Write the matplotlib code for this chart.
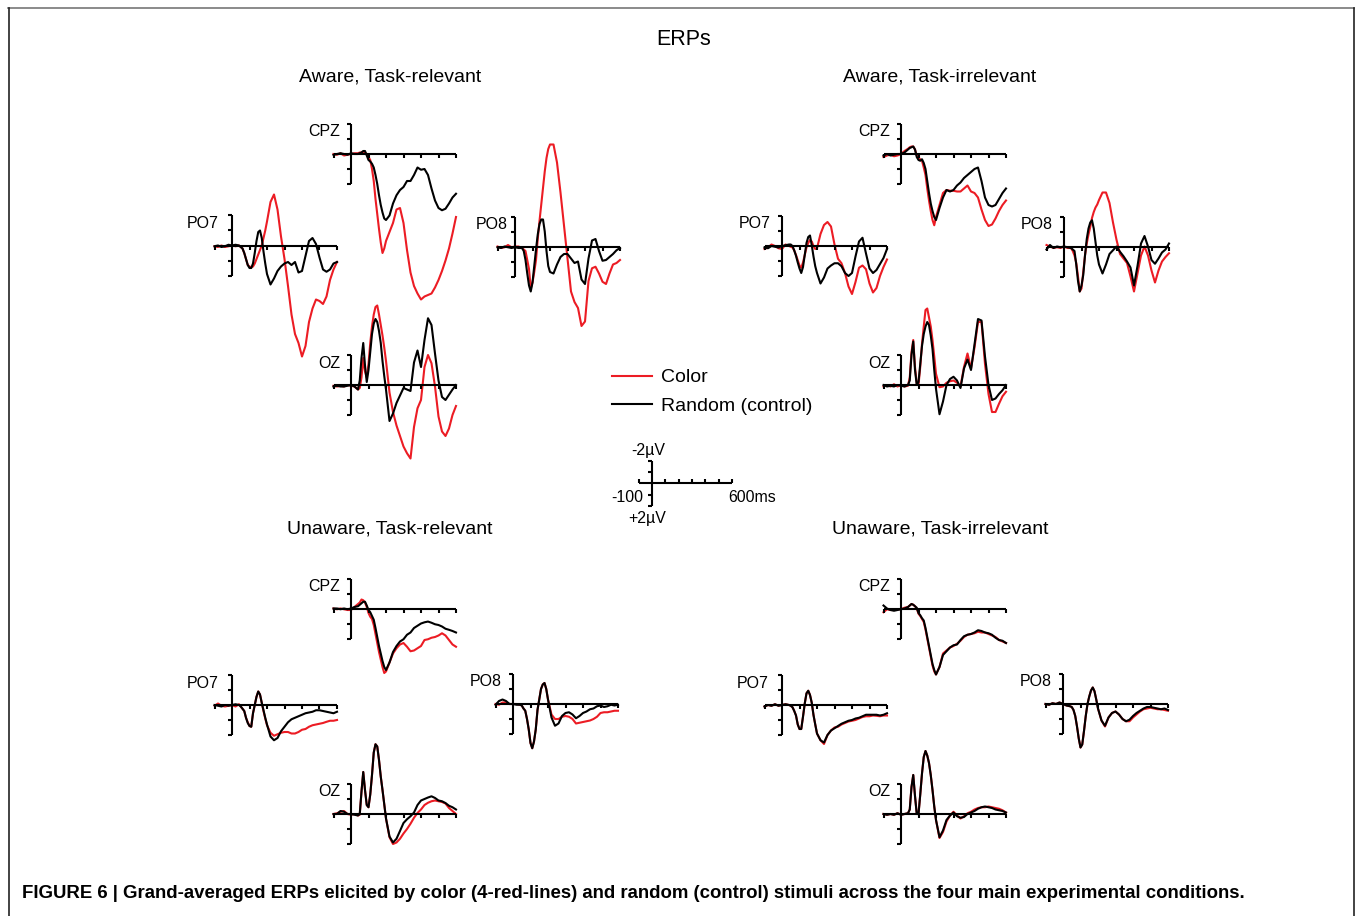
import matplotlib
matplotlib.use("Agg")
import matplotlib.pyplot as plt
from matplotlib.lines import Line2D

plt.rcParams["font.family"] = ["Liberation Sans", "DejaVu Sans"]

W, H = 1355, 916
RED = "#ec1c24"
INK = "#000000"

# time grid (ms): 20 ms steps before 40 ms, 10 ms in the early window, 20 ms after 200 ms
TIME_MS = [-100, -80, -60, -40, -20, 0, 20, 40,
           50, 60, 70, 80, 90, 100, 110, 120, 130, 140, 150, 160, 170, 180, 190, 200,
           220, 240, 260, 280, 300, 320, 340, 360, 380, 400, 420, 440, 460, 480, 500, 520, 540, 560, 580, 600]

# amplitudes in microvolts, negative plotted upwards
# --- Aware, Task-relevant
AR_CPZ_COLOR = [0.0, 0.05, -0.05, 0.1, 0.05, 0.0, -0.05, -0.05,
                -0.1, -0.1, -0.15, -0.1, 0.0, 0.2, 0.4, 1.0, 1.8, 3.0, 4.0, 5.0, 5.9, 6.6, 6.3, 5.8,
                5.2, 4.6, 3.7, 3.6, 4.6, 6.4, 7.9, 8.8, 9.3, 9.7, 9.5, 9.4, 9.3, 8.9, 8.4, 7.8, 7.1, 6.3, 5.3, 4.2]
AR_CPZ_RANDOM = [0.05, 0.0, -0.05, 0.0, 0.05, -0.05, 0.0, 0.0,
                 -0.05, -0.1, -0.2, -0.2, 0.1, 0.4, 0.5, 0.65, 0.9, 1.4, 2.0, 2.75, 3.4, 3.9, 4.3, 4.4,
                 4.1, 3.3, 2.75, 2.4, 2.2, 1.8, 1.8, 1.4, 0.9, 1.05, 1.0, 1.4, 2.3, 3.1, 3.6, 3.75, 3.65, 3.3, 2.9, 2.65]
AR_PO7_COLOR = [0.05, 0.1, 0.0, 0.1, 0.05, 0.0, 0.05, 0.0,
                0.1, 0.2, 0.5, 0.9, 1.3, 1.4, 1.45, 1.4, 1.2, 0.9, 0.6, 0.3, 0.0, -0.5, -1.0, -1.6,
                -2.9, -3.4, -2.4, -0.6, 0.9, 2.7, 4.6, 5.9, 6.5, 7.4, 6.7, 5.1, 4.2, 3.6, 3.7, 3.9, 3.4, 2.3, 1.6, 1.1]
AR_PO7_RANDOM = [0.05, 0.0, 0.1, 0.05, -0.05, 0.0, -0.05, 0.0,
                 0.1, 0.2, 0.5, 0.9, 1.3, 1.5, 1.5, 1.2, 0.5, -0.3, -0.9, -1.0, -0.5, 0.4, 1.2, 1.9,
                 2.6, 2.2, 1.7, 1.4, 1.2, 1.1, 1.3, 1.1, 1.8, 1.7, 0.7, -0.3, -0.5, -0.1, 0.8, 1.6, 1.75, 1.6, 1.2, 1.1]
AR_PO8_COLOR = [0.0, 0.1, 0.05, -0.1, 0.05, 0.0, 0.0, 0.1,
                0.2, 0.3, 0.9, 1.5, 2.8, 2.4, 1.7, 0.9, -0.5, -1.7, -2.8, -3.9, -5.0, -5.9, -6.5, -6.8,
                -6.8, -5.6, -3.6, -1.4, 0.8, 3.0, 3.7, 4.1, 5.3, 5.0, 2.3, 1.45, 1.35, 1.8, 2.35, 2.5, 1.8, 1.2, 1.1, 0.9]
AR_PO8_RANDOM = [0.05, 0.1, 0.0, 0.05, 0.1, 0.05, 0.1, 0.1,
                 0.3, 0.9, 1.8, 2.6, 3.0, 2.4, 1.3, 0.2, -0.8, -1.5, -1.8, -1.8, -1.0, 0.3, 1.3, 1.7,
                 1.8, 1.2, 0.7, 0.5, 0.5, 0.8, 1.1, 1.0, 2.2, 2.5, 0.8, -0.4, -0.5, 0.3, 0.95, 0.9, 0.7, 0.5, 0.25, 0.1]
AR_OZ_COLOR = [0.05, 0.1, 0.05, 0.1, 0.0, 0.05, 0.1, 0.3,
               0.2, -0.5, -1.8, -0.9, -0.5, -1.4, -2.8, -3.9, -4.7, -5.2, -5.3, -4.7, -4.0, -3.3, -2.5, -1.6,
               0.5, 1.8, 2.7, 3.4, 4.1, 4.55, 4.9, 2.8, 1.55, 1.0, -1.2, -2.0, -1.45, 0.1, 2.1, 3.1, 3.4, 2.9, 2.0, 1.4]
AR_OZ_RANDOM = [0.1, 0.05, 0.1, 0.1, 0.05, 0.0, 0.1, 0.3,
                -0.3, -1.8, -2.8, -1.3, -0.2, -1.0, -2.2, -3.4, -4.1, -4.4, -4.2, -3.6, -2.8, -1.6, -0.6, 0.3,
                2.4, 1.9, 1.2, 0.7, 0.2, 0.3, 0.4, -1.5, -2.3, -1.2, -3.0, -4.45, -4.0, -2.1, -0.3, 0.8, 1.0, 0.65, 0.3, 0.0]

# --- Aware, Task-irrelevant
AI_CPZ_COLOR = [0.2, 0.1, 0.05, 0.15, 0.1, 0.0, -0.2, -0.35,
                -0.45, -0.5, -0.5, -0.3, 0.1, 0.25, 0.35, 0.45, 0.9, 1.4, 2.3, 3.1, 3.8, 4.4, 4.75, 4.2,
                3.4, 2.6, 2.4, 2.45, 2.45, 2.5, 2.5, 2.3, 2.1, 2.5, 2.6, 2.9, 3.7, 4.4, 4.8, 4.7, 4.3, 3.8, 3.4, 3.1]
AI_CPZ_RANDOM = [0.1, 0.0, 0.1, 0.05, 0.0, 0.0, -0.1, -0.3,
                 -0.4, -0.45, -0.5, -0.3, 0.2, 0.4, 0.45, 0.35, 0.6, 1.0, 1.8, 2.6, 3.3, 3.8, 4.2, 4.4,
                 3.6, 2.9, 2.4, 2.5, 2.4, 2.1, 1.9, 1.6, 1.4, 1.2, 1.0, 0.9, 1.8, 2.9, 3.4, 3.5, 3.4, 3.0, 2.6, 2.3]
AI_PO7_COLOR = [0.2, 0.1, -0.1, 0.0, 0.15, 0.2, -0.1, 0.0,
                0.05, 0.1, 0.3, 0.6, 0.95, 1.3, 1.45, 1.1, 0.6, 0.1, -0.2, -0.4, -0.3, 0.0, 0.2, 0.15,
                -0.8, -1.4, -1.6, -1.3, -0.1, 0.85, 1.15, 1.8, 2.7, 3.2, 2.4, 1.45, 1.3, 1.55, 2.5, 3.1, 2.8, 2.0, 1.4, 0.9]
AI_PO7_RANDOM = [0.1, 0.15, 0.0, 0.05, 0.1, 0.0, -0.05, -0.1,
                 -0.1, 0.0, 0.3, 0.65, 1.1, 1.5, 1.8, 1.4, 0.6, -0.2, -0.6, -0.7, -0.05, 0.7, 1.35, 1.8,
                 2.5, 2.1, 1.5, 1.3, 1.15, 1.15, 1.35, 1.8, 2.0, 1.8, 0.7, -0.3, -0.55, 0.5, 1.5, 1.8, 1.6, 1.2, 0.8, 0.2]
AI_PO8_COLOR = [-0.1, 0.0, 0.1, 0.05, 0.1, 0.0, 0.1, 0.1,
                0.3, 0.6, 1.1, 2.0, 3.0, 2.8, 1.7, 0.6, -0.2, -0.8, -1.3, -1.9, -2.3, -2.6, -2.8, -3.1,
                -3.6, -3.6, -2.9, -1.6, -0.45, 0.5, 0.8, 1.1, 2.0, 3.0, 1.8, 0.6, 0.0, 0.6, 1.6, 2.4, 1.6, 1.0, 0.7, 0.45]
AI_PO8_RANDOM = [0.2, -0.1, 0.1, 0.0, 0.05, 0.0, 0.05, 0.1,
                 0.2, 0.3, 1.2, 2.3, 3.0, 2.6, 1.9, 0.6, -0.5, -1.2, -1.6, -1.75, -1.2, -0.3, 0.6, 1.2,
                 1.8, 1.2, 0.5, 0.25, 0.0, 0.35, 0.65, 1.0, 1.4, 2.6, 1.3, -0.2, -0.7, 0.0, 0.9, 1.15, 0.8, 0.4, 0.2, -0.2]
AI_OZ_COLOR = [0.1, 0.0, 0.1, -0.05, 0.1, 0.0, 0.1, 0.05,
               -0.5, -2.2, -3.0, -1.2, -0.1, 0.0, -1.2, -2.75, -3.9, -5.0, -5.1, -4.5, -3.9, -3.0, -1.9, -0.75,
               0.15, 0.1, -0.15, -0.25, -0.3, -0.15, 0.1, -1.2, -2.1, -1.1, -2.5, -4.2, -4.2, -1.4, 0.6, 1.8, 1.8, 1.25, 0.75, 0.45]
AI_OZ_RANDOM = [0.0, 0.1, 0.05, 0.1, 0.0, 0.05, 0.1, 0.0,
                -0.3, -2.0, -2.9, -1.0, 0.0, -0.2, -1.4, -2.6, -3.4, -3.9, -4.2, -4.0, -3.3, -2.4, -1.0, 0.25,
                1.95, 1.1, 0.0, -0.4, -0.55, -0.3, 0.2, -1.1, -1.7, -1.0, -2.7, -4.4, -4.3, -1.9, 0.0, 1.0, 0.9, 0.6, 0.35, 0.0]

# --- Unaware, Task-relevant
UR_CPZ_COLOR = [0.0, 0.05, 0.0, 0.05, 0.1, 0.1, -0.1, -0.3,
                -0.4, -0.6, -0.55, -0.4, -0.1, 0.3, 0.55, 0.7, 1.1, 1.7, 2.3, 2.9, 3.4, 3.9, 4.3, 4.2,
                3.6, 3.0, 2.65, 2.4, 2.3, 2.55, 2.85, 2.8, 2.65, 2.5, 2.1, 2.05, 1.95, 1.9, 1.8, 1.65, 1.8, 2.1, 2.4, 2.55]
UR_CPZ_RANDOM = [0.0, 0.0, 0.05, 0.0, 0.05, 0.0, -0.1, -0.15,
                 -0.25, -0.35, -0.45, -0.45, -0.2, 0.1, 0.25, 0.5, 0.75, 1.3, 1.9, 2.5, 3.0, 3.5, 3.9, 4.1,
                 3.6, 2.9, 2.5, 2.2, 2.05, 1.75, 1.6, 1.3, 1.15, 1.0, 0.92, 0.87, 0.95, 1.05, 1.1, 1.2, 1.35, 1.42, 1.5, 1.6]
UR_PO7_COLOR = [0.05, -0.1, 0.05, 0.1, 0.05, 0.0, 0.1, -0.05,
                0.1, 0.25, 0.4, 0.85, 1.15, 1.4, 1.45, 0.55, 0.0, -0.55, -0.9, -0.7, -0.15, 0.4, 0.9, 1.35,
                1.85, 2.05, 1.95, 1.85, 1.8, 1.8, 1.9, 1.9, 1.8, 1.65, 1.6, 1.45, 1.35, 1.3, 1.25, 1.2, 1.12, 1.05, 1.05, 1.0]
UR_PO7_RANDOM = [0.0, 0.05, 0.1, 0.0, 0.05, 0.0, -0.05, 0.0,
                 0.1, 0.25, 0.4, 0.85, 1.2, 1.4, 1.45, 0.55, 0.0, -0.55, -0.9, -0.7, -0.15, 0.35, 0.85, 1.3,
                 2.1, 2.35, 2.2, 1.75, 1.45, 1.15, 0.95, 0.85, 0.75, 0.65, 0.55, 0.5, 0.45, 0.35, 0.35, 0.4, 0.45, 0.5, 0.55, 0.45]
UR_PO8_COLOR = [0.0, 0.05, -0.1, -0.1, 0.0, 0.0, 0.0, 0.05,
                0.1, 0.3, 0.45, 1.0, 1.7, 2.6, 2.95, 2.5, 1.7, 0.4, -0.3, -1.0, -1.3, -1.4, -1.0, -0.3,
                0.7, 1.0, 1.0, 0.85, 0.8, 0.85, 1.0, 1.3, 1.25, 1.2, 1.15, 1.1, 1.0, 0.85, 0.6, 0.55, 0.55, 0.5, 0.45, 0.45]
UR_PO8_RANDOM = [0.05, -0.2, -0.3, -0.2, 0.0, 0.0, 0.05, 0.05,
                 0.1, 0.3, 0.45, 1.0, 1.7, 2.6, 2.95, 2.5, 1.7, 0.4, -0.3, -1.0, -1.3, -1.4, -1.0, -0.3,
                 0.9, 1.45, 1.3, 0.8, 0.6, 0.55, 0.7, 0.95, 0.8, 0.6, 0.5, 0.35, 0.3, 0.15, 0.1, 0.2, 0.15, 0.05, 0.1, 0.05]
UR_OZ_COLOR = [0.0, -0.05, -0.15, -0.2, 0.0, 0.05, 0.0, 0.1,
               0.05, -1.5, -2.8, -1.6, -0.6, -0.45, -1.3, -2.6, -4.1, -4.65, -4.5, -3.6, -2.5, -1.6, -0.65, 0.3,
               1.55, 2.0, 1.9, 1.65, 1.3, 1.0, 0.65, 0.25, -0.07, -0.3, -0.6, -0.75, -0.85, -0.9, -0.85, -0.8, -0.7, -0.4, -0.2, 0.0]
UR_OZ_RANDOM = [0.0, 0.0, -0.2, -0.15, 0.0, 0.0, 0.05, 0.1,
                0.0, -1.5, -2.8, -1.6, -0.6, -0.45, -1.3, -2.6, -4.1, -4.65, -4.5, -3.6, -2.5, -1.6, -0.65, 0.3,
                1.5, 1.9, 1.65, 1.13, 0.6, 0.35, 0.15, -0.1, -0.6, -0.9, -1.0, -1.1, -1.18, -1.07, -0.9, -0.85, -0.73, -0.55, -0.45, -0.3]

# --- Unaware, Task-irrelevant
UI_CPZ_COLOR = [0.25, 0.05, 0.1, 0.1, 0.05, 0.05, -0.05, -0.1,
                -0.2, -0.3, -0.25, -0.15, 0.0, 0.35, 0.5, 0.7, 0.9, 1.4, 2.0, 2.6, 3.2, 3.8, 4.2, 4.4,
                3.9, 3.0, 2.8, 2.6, 2.5, 2.35, 2.15, 1.9, 1.75, 1.7, 1.65, 1.55, 1.6, 1.6, 1.7, 1.8, 1.9, 2.1, 2.2, 2.3]
UI_CPZ_RANDOM = [-0.2, 0.0, 0.1, 0.15, 0.1, 0.05, 0.0, -0.1,
                 -0.2, -0.3, -0.25, -0.15, -0.05, 0.3, 0.45, 0.65, 0.8, 1.3, 1.9, 2.5, 3.1, 3.7, 4.1, 4.4,
                 3.9, 3.1, 2.85, 2.6, 2.45, 2.4, 2.1, 1.85, 1.75, 1.7, 1.6, 1.45, 1.5, 1.6, 1.65, 1.75, 1.95, 2.1, 2.15, 2.3]
UI_PO7_COLOR = [0.1, 0.0, 0.05, -0.05, 0.05, 0.0, -0.05, 0.0,
                0.05, 0.15, 0.4, 0.7, 1.3, 1.6, 1.6, 0.78, -0.1, -0.78, -0.95, -0.67, -0.15, 0.67, 1.3, 1.9,
                2.35, 2.6, 2.0, 1.7, 1.5, 1.45, 1.3, 1.2, 1.1, 1.05, 1.0, 0.9, 0.8, 0.75, 0.75, 0.7, 0.72, 0.75, 0.7, 0.7]
UI_PO7_RANDOM = [0.1, 0.0, 0.05, -0.05, 0.05, 0.0, -0.05, 0.0,
                 0.05, 0.15, 0.4, 0.7, 1.3, 1.6, 1.6, 0.78, -0.1, -0.78, -0.95, -0.67, -0.15, 0.67, 1.3, 1.9,
                 2.35, 2.5, 2.0, 1.7, 1.55, 1.4, 1.25, 1.15, 1.05, 1.0, 0.9, 0.85, 0.75, 0.65, 0.65, 0.65, 0.65, 0.7, 0.65, 0.55]
UI_PO8_COLOR = [0.0, 0.05, -0.05, 0.0, -0.1, 0.0, 0.1, 0.15,
                0.2, 0.4, 0.8, 1.5, 2.3, 2.9, 2.7, 1.8, 0.8, 0.0, -0.5, -0.9, -1.1, -0.85, -0.3, 0.3,
                1.1, 1.5, 0.9, 0.6, 0.5, 0.7, 1.0, 1.15, 1.15, 0.9, 0.7, 0.5, 0.35, 0.3, 0.25, 0.3, 0.35, 0.35, 0.4, 0.45]
UI_PO8_RANDOM = [0.0, 0.05, -0.05, 0.0, -0.1, 0.0, 0.1, 0.15,
                 0.2, 0.4, 0.8, 1.5, 2.3, 2.9, 2.7, 1.8, 0.8, 0.0, -0.5, -0.9, -1.1, -0.85, -0.3, 0.3,
                 1.1, 1.45, 0.9, 0.6, 0.5, 0.7, 1.0, 1.15, 1.05, 0.8, 0.6, 0.45, 0.3, 0.2, 0.2, 0.25, 0.3, 0.35, 0.3, 0.4]
UI_OZ_COLOR = [0.0, 0.05, 0.0, 0.05, -0.05, 0.05, 0.0, -0.05,
               -0.3, -1.8, -2.6, -1.2, 0.0, 0.0, -1.3, -2.7, -3.8, -4.2, -3.9, -3.4, -2.6, -1.6, -0.5, 0.4,
               1.6, 1.2, 0.5, 0.1, -0.15, 0.1, 0.3, 0.15, -0.05, -0.15, -0.3, -0.4, -0.45, -0.45, -0.5, -0.45, -0.4, -0.35, -0.25, -0.1]
UI_OZ_RANDOM = [0.0, 0.05, 0.0, 0.05, -0.05, 0.05, 0.0, -0.05,
                -0.3, -1.8, -2.6, -1.2, 0.0, 0.0, -1.3, -2.7, -3.8, -4.2, -3.9, -3.4, -2.6, -1.6, -0.5, 0.4,
                1.55, 1.1, 0.4, 0.1, -0.1, 0.15, 0.25, 0.2, 0.0, -0.1, -0.2, -0.35, -0.45, -0.5, -0.45, -0.4, -0.3, -0.25, -0.2, -0.1]

CONDITION_TITLES = ["Aware, Task-relevant", "Aware, Task-irrelevant",
                    "Unaware, Task-relevant", "Unaware, Task-irrelevant"]
ELECTRODES = ["CPZ", "PO7", "PO8", "OZ"]
SERIES_LABELS = ["Color", "Random (control)"]
CAPTION = ("FIGURE 6 | Grand-averaged ERPs elicited by color (4-red-lines) and random (control) "
           "stimuli across the four main experimental conditions.")

DATA = [
    {"CPZ": (AR_CPZ_COLOR, AR_CPZ_RANDOM), "PO7": (AR_PO7_COLOR, AR_PO7_RANDOM),
     "PO8": (AR_PO8_COLOR, AR_PO8_RANDOM), "OZ": (AR_OZ_COLOR, AR_OZ_RANDOM)},
    {"CPZ": (AI_CPZ_COLOR, AI_CPZ_RANDOM), "PO7": (AI_PO7_COLOR, AI_PO7_RANDOM),
     "PO8": (AI_PO8_COLOR, AI_PO8_RANDOM), "OZ": (AI_OZ_COLOR, AI_OZ_RANDOM)},
    {"CPZ": (UR_CPZ_COLOR, UR_CPZ_RANDOM), "PO7": (UR_PO7_COLOR, UR_PO7_RANDOM),
     "PO8": (UR_PO8_COLOR, UR_PO8_RANDOM), "OZ": (UR_OZ_COLOR, UR_OZ_RANDOM)},
    {"CPZ": (UI_CPZ_COLOR, UI_CPZ_RANDOM), "PO7": (UI_PO7_COLOR, UI_PO7_RANDOM),
     "PO8": (UI_PO8_COLOR, UI_PO8_RANDOM), "OZ": (UI_OZ_COLOR, UI_OZ_RANDOM)},
]
for d in DATA:
    for c, r in d.values():
        assert len(c) == len(TIME_MS) and len(r) == len(TIME_MS)

# layout (pixels): origin of each mini plot (0 ms, 0 uV), label offset, title centre
ORIGINS = [
    {"CPZ": (351, 154), "PO7": (232, 245.5), "PO8": (515, 246.5), "OZ": (351, 385)},
    {"CPZ": (901, 154), "PO7": (782, 246), "PO8": (1064, 246.5), "OZ": (901, 385)},
    {"CPZ": (351, 608.5), "PO7": (232, 705), "PO8": (513, 704), "OZ": (351, 814)},
    {"CPZ": (901, 608.5), "PO7": (782, 705), "PO8": (1063, 704), "OZ": (901, 814)},
]
LABEL_GAP = [{"PO7": 13, "PO8": 7}, {}, {"PO7": 13}, {"PO7": 13}]
TITLE_POS = [(390, 77.5), (940, 77.5), (390, 529.5), (940, 529.5)]
XTICKS = [-100, 100, 200, 300, 400, 500, 600]
YTICKS = [-2, -1, 1, 2]
LW = 1.5

fig = plt.figure(figsize=(W / 100, H / 100), dpi=100)


def fxy(px, py):
    return px / W, 1 - py / H


def mini_axes(ox, oy, xs, ys):
    left = ox - 100 * xs
    top = oy - 2 * ys
    ax = fig.add_axes([left / W, 1 - (top + 4 * ys) / H, 700 * xs / W, 4 * ys / H])
    ax.set_xlim(-100, 600)
    ax.set_ylim(2, -2)
    ax.axis("off")
    return ax


def draw_frame(ax, xs, ys, ticks_up=False):
    kw = dict(color=INK, lw=LW, clip_on=False, zorder=4)
    ax.plot([-100, 600], [0, 0], solid_capstyle="butt", **kw)
    ax.plot([0, 0], [-2, 2], solid_capstyle="butt", **kw)
    tv = 4.0 / ys
    th = 4.0 / xs
    ax.vlines(XTICKS, 0, -tv if ticks_up else tv, **kw)
    ax.hlines(YTICKS, -th, 0, **kw)


XS, YS = 0.175, 15.0
for ci, title in enumerate(CONDITION_TITLES):
    tx, ty = TITLE_POS[ci]
    fig.text(*fxy(tx, ty), title, ha="center", va="center", fontsize=14)
    for el in ELECTRODES:
        ox, oy = ORIGINS[ci][el]
        ax = mini_axes(ox, oy, XS, YS)
        draw_frame(ax, XS, YS)
        col, rnd = DATA[ci][el]
        ax.plot(TIME_MS, col, color=RED, lw=LW, clip_on=False, zorder=2)
        ax.plot(TIME_MS, rnd, color=INK, lw=LW, clip_on=False, zorder=3)
        gap = LABEL_GAP[ci].get(el, 11)
        fig.text(*fxy(ox - gap, oy - 22), el, ha="right", va="center", fontsize=11.5)

fig.text(*fxy(684, 39.5), "ERPs", ha="center", va="center", fontsize=15.5)

# legend
for i, (lab, c) in enumerate(zip(SERIES_LABELS, [RED, INK])):
    y = 376 + 28 * i
    fig.add_artist(Line2D([612 / W, 652 / W], [1 - y / H] * 2, color=c, lw=LW))
    fig.text(*fxy(661, y + 1 + 2 * i), lab, ha="left", va="center", fontsize=14)

# scale bar
sx, sy = 0.1333, 11.25
sax = mini_axes(652, 483.3, sx, sy)
draw_frame(sax, sx, sy, ticks_up=True)
fig.text(*fxy(648, 451), "-2\u00b5V", ha="center", va="center", fontsize=11.4)
fig.text(*fxy(643, 497), "-100", ha="right", va="center", fontsize=11.4)
fig.text(*fxy(728, 497), "600ms", ha="left", va="center", fontsize=11.4)
fig.text(*fxy(647, 518), "+2\u00b5V", ha="center", va="center", fontsize=11.4)

# caption, fitted to its printed width
cap = fig.text(*fxy(22, 894), CAPTION, ha="left", va="center", fontsize=12,
               fontweight="bold", family=["Liberation Sans Narrow", "Liberation Sans"])
fig.canvas.draw()
cw = cap.get_window_extent().width
cap.set_fontsize(12 * 1221 / cw)

# frame
fig.add_artist(Line2D([8 / W, 1354 / W], [1 - 7.5 / H] * 2, color="#777777", lw=1.2))
fig.add_artist(Line2D([8.5 / W] * 2, [0, 1 - 7.5 / H], color="#222222", lw=1.2))
fig.add_artist(Line2D([1353.5 / W] * 2, [0, 1 - 7.5 / H], color="#222222", lw=1.2))

fig.savefig("out.png", dpi=100)
